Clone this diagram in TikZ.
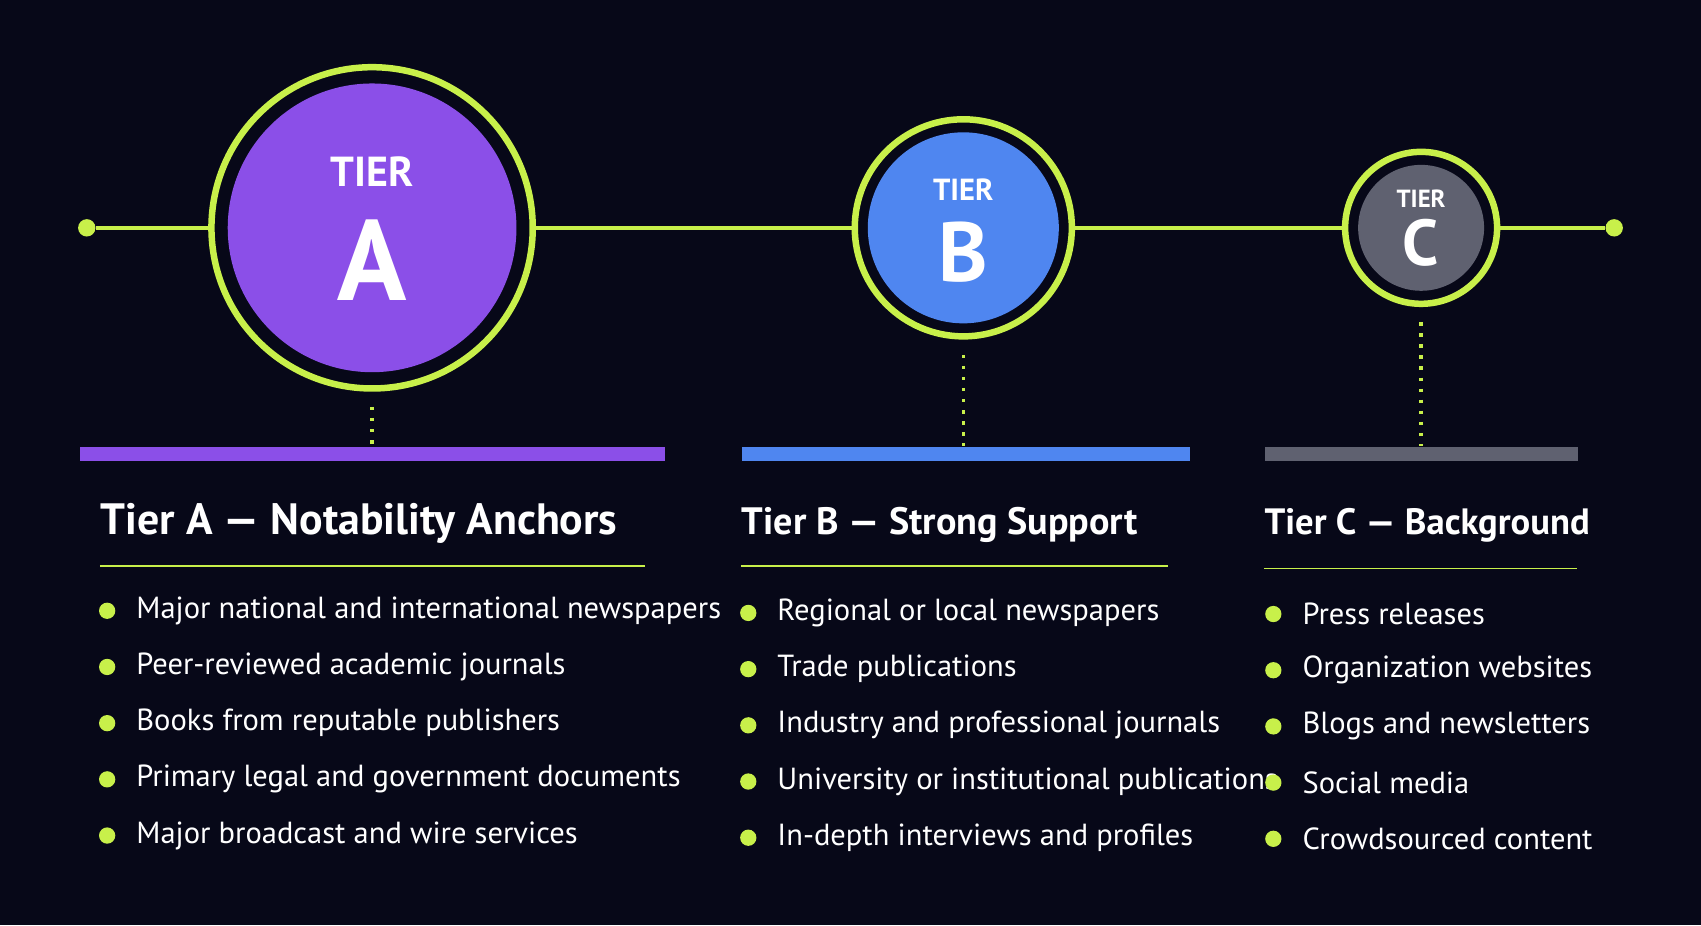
\documentclass[tikz,border=0pt]{standalone}
\usepackage{fontspec}
\setmainfont{PT Sans}
\usetikzlibrary{positioning}
\definecolor{bgnavy}{HTML}{070818}
\definecolor{lime}{HTML}{C8F04A}
\definecolor{tierA}{HTML}{8B4FE8}
\definecolor{tierB}{HTML}{4F86F0}
\definecolor{tierC}{HTML}{5F6170}
\tikzset{
  ring/.style={circle, draw=lime, line width=1.7pt, fill=bgnavy, inner sep=0pt},
  core/.style={circle, inner sep=0pt},
  link/.style={draw=lime, line width=1pt},
  stem/.style={draw=lime, line width=0.9pt, dotted},
  endpt/.style={circle, fill=lime, inner sep=0pt, minimum size=0.16cm},
  bar/.style={anchor=north west, inner sep=0pt, minimum height=0.13cm},
  title/.style={anchor=west, text=white, font=\bfseries, inner sep=0pt},
  item/.style={anchor=west, text=white, font=\fontsize{8}{9}\selectfont, inner sep=0pt},
  bullet/.style={circle, fill=lime, inner sep=0pt, minimum size=0.15cm}
}
\begin{document}
\begin{tikzpicture}[x=0.01cm, y=-0.01cm]
  \fill[bgnavy] (0,0) rectangle (1568,853);
  \useasboundingbox (0,0) rectangle (1568,853);
  % timeline
  \node[endpt] (dotL) at (80,210) {};
  \node[endpt] (dotR) at (1488,210) {};
  \node[ring, minimum size=2.96cm] (A) at (343,210) {};
  \node[ring, minimum size=2.00cm] (B) at (888,210) {};
  \node[ring, minimum size=1.40cm] (C) at (1310,210) {};
  \draw[link] (dotL) -- (A);
  \draw[link] (A) -- (B);
  \draw[link] (B) -- (C);
  \draw[link] (C) -- (dotR);
  \node[core, fill=tierA, minimum size=2.66cm] at (A) {};
  \node[core, fill=tierB, minimum size=1.76cm] at (B) {};
  \node[core, fill=tierC, minimum size=1.16cm] at (C) {};
  \node[text=white, font=\bfseries\fontsize{11}{11}\selectfont] at (343,158) {TIER};
  \node[text=white, font=\bfseries\fontsize{30}{30}\selectfont] at (343,240) {A};
  \node[text=white, font=\bfseries\fontsize{8}{8}\selectfont] at (888,175) {TIER};
  \node[text=white, font=\bfseries\fontsize{22}{22}\selectfont] at (888,232) {B};
  \node[text=white, font=\bfseries\fontsize{6.5}{6.5}\selectfont] at (1310,183) {TIER};
  \node[text=white, font=\bfseries\fontsize{17}{17}\selectfont] at (1310,224) {C};
  % bars
  \node[bar, fill=tierA, minimum width=5.39cm] (barA) at (73,411) {};
  \node[bar, fill=tierB, minimum width=4.13cm] (barB) at (683,411) {};
  \node[bar, fill=tierC, minimum width=2.89cm] (barC) at (1165,411) {};
  \draw[stem] (A.south) ++(0,14) -- (barA.north -| A);
  \draw[stem] (B.south) ++(0,14) -- (barB.north -| B);
  \draw[stem] (C.south) ++(0,14) -- (barC.north -| C);
  % titles
  \node[title, font=\bfseries\fontsize{11.5}{12}\selectfont] (tA) at (92,482) {Tier A — Notability Anchors};
  \node[title, font=\bfseries\fontsize{10}{12}\selectfont] (tB) at (683,484) {Tier B — Strong Support};
  \node[title, font=\bfseries\fontsize{9.6}{12}\selectfont] (tC) at (1165,484) {Tier C — Background};
  \draw[lime, line width=0.5pt] (92,522) -- (595,522);
  \draw[lime, line width=0.5pt] (683,522) -- (1077,522);
  \draw[lime, line width=0.5pt] (1165,524) -- (1454,524);
  % lists
  \foreach \t [count=\i] in {Major national and international newspapers, Peer-reviewed academic journals, Books from reputable publishers, Primary legal and government documents, Major broadcast and wire services}
    \node[item] (a\i) at (125,{563+51.8*(\i-1)}) {\t};
  \foreach \t [count=\i] in {Regional or local newspapers, Trade publications, Industry and professional journals, University or institutional publications, In-depth interviews and profiles}
    \node[item] (b\i) at (716,{565+51.8*(\i-1)}) {\t};
  \foreach \t [count=\i] in {Press releases, Organization websites, Blogs and newsletters, Social media, Crowdsourced content}
    \node[item] (c\i) at (1200,{566+51.8*(\i-1)}) {\t};
  \foreach \i in {1,...,5} {
    \node[bullet, left=0.18cm of a\i] {};
    \node[bullet, left=0.18cm of b\i] {};
    \node[bullet, left=0.18cm of c\i] {};
  }
\end{tikzpicture}
\end{document}
